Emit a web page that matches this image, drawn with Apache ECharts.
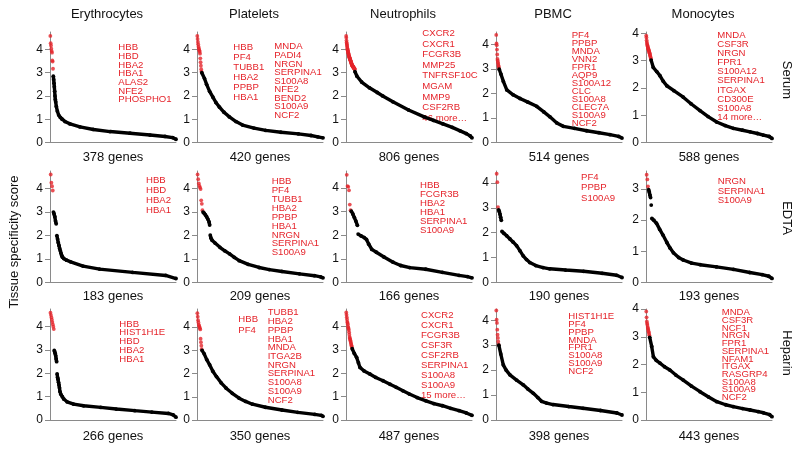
<!DOCTYPE html>
<html><head><meta charset="utf-8">
<script src="https://cdn.jsdelivr.net/npm/echarts@6/dist/echarts.min.js"></script>
<style>html,body{margin:0;padding:0;background:#fff}#c{width:798px;height:451px}</style>
</head><body><div id="c"></div>
<script>
// ---------- DATA ----------
const cellTypes = ['Erythrocytes', 'Platelets', 'Neutrophils', 'PBMC', 'Monocytes'];
const conditions = ['Serum', 'EDTA', 'Heparin'];
const geneCounts = [[378, 420, 806, 514, 588], [183, 209, 166, 190, 193], [266, 350, 487, 398, 443]];
const yAxisMax = [[4.75, 4.75, 4.75, 4.52, 4.05], [4.75, 4.75, 4.72, 4.48, 3.57], [4.76, 4.78, 4.75, 4.45, 4.0]];
const yTickLabels = [0, 1, 2, 3, 4];
const yTickLabelsShort = [0, 1, 2, 3];
const yAxisTitle = 'Tissue specificity score';

// red = top-scoring genes (scores at ranks 1..k); black = [rank, score] along the sorted curve (null = gap)
const ery_serum_red = [4.58, 4.27, 4.17, 4.03, 3.93, 3.86, 3.53, 3.48, 3.17];
const ery_serum_black = [[10,2.85],[11,2.7],[12,2.55],[13,2.4],[14,2.2],[15,2.0],[16,1.85],[17,1.75],[19,1.55],[22,1.35],[26,1.18],[31,1.08],[36,1.0],[45,0.9],[60,0.8],[90,0.67],[130,0.56],[180,0.47],[240,0.4],[300,0.32],[345,0.26],[368,0.21],[378,0.14]];
const ery_serum_genes = ['HBB', 'HBD', 'HBA2', 'HBA1', 'ALAS2', 'NFE2', 'PHOSPHO1'];

const plt_serum_red = [4.58, 4.45, 4.32, 4.22, 4.12, 4.06, 4.0, 3.95, 3.9, 3.82, 3.62, 3.45, 3.3, 3.15, 3.05];
const plt_serum_black = [[16,3.0],[25,2.75],[32,2.5],[42,2.2],[53,1.95],[63,1.72],[75,1.52],[90,1.3],[108,1.1],[130,0.9],[152,0.75],[190,0.62],[229,0.52],[280,0.44],[338,0.37],[380,0.3],[403,0.24],[420,0.2]];
const plt_serum_genes_a = ['HBB', 'PF4', 'TUBB1', 'HBA2', 'PPBP', 'HBA1'];
const plt_serum_genes_b = ['MNDA', 'PADI4', 'NRGN', 'SERPINA1', 'S100A8', 'NFE2', 'BEND2', 'S100A9', 'NCF2'];

const neu_serum_red = [4.58, 4.5, 4.38, 4.3, 4.25, 4.2, 4.15, 4.1, 4.05, 4.0, 3.97, 3.94, 3.9, 3.87, 3.84, 3.81, 3.78, 3.75, 3.72, 3.7, 3.68, 3.66, 3.64, 3.62, 3.6, 3.58, 3.56, 3.54, 3.52, 3.5, 3.48, 3.46, 3.44, 3.42, 3.4, 3.38, 3.36, 3.34, 3.32, 3.31, 3.3, 3.29, 3.28, 3.27, 3.26, 3.25, 3.24, 3.23, 3.22, 3.21, 3.2, 3.19, 3.18, 3.17, 3.16, 3.15];
const neu_serum_black = [[57,3.05],[70,2.85],[100,2.6],[150,2.35],[200,2.15],[235,2.0],[300,1.75],[400,1.4],[500,1.1],[560,0.95],[620,0.8],[680,0.65],[730,0.5],[770,0.38],[795,0.28],[806,0.2]];
const neu_serum_genes = ['CXCR2', 'CXCR1', 'FCGR3B', 'MMP25', 'TNFRSF10C', 'MGAM', 'MMP9', 'CSF2RB', '46 more…'];

const pbmc_serum_red = [4.4, 4.05, 3.98, 3.8, 3.6, 3.42, 3.35, 3.28, 3.22, 3.15, 3.1, 3.05];
const pbmc_serum_black = [[13,3.0],[20,2.8],[30,2.5],[44,2.15],[70,1.95],[98,1.8],[130,1.65],[166,1.48],[195,1.25],[220,1.05],[248,0.8],[275,0.66],[320,0.58],[370,0.48],[420,0.4],[465,0.32],[500,0.25],[514,0.18]];
const pbmc_serum_genes = ['PF4', 'PPBP', 'MNDA', 'VNN2', 'FPR1', 'AQP9', 'S100A12', 'CLC', 'S100A8', 'CLEC7A', 'S100A9', 'NCF2'];

const mono_serum_red = [3.92, 3.85, 3.75, 3.68, 3.62, 3.58, 3.55, 3.52, 3.48, 3.45, 3.42, 3.4, 3.37, 3.35, 3.32, 3.3, 3.27, 3.24, 3.2, 3.17, 3.13, 3.1, 3.06];
const mono_serum_black = [[24,3.02],[34,2.75],[50,2.6],[65,2.45],[80,2.25],[97,2.08],[130,1.9],[174,1.66],[210,1.42],[252,1.17],[290,0.95],[330,0.75],[370,0.62],[408,0.52],[450,0.45],[486,0.39],[520,0.33],[548,0.27],[575,0.22],[588,0.15]];
const mono_serum_genes = ['MNDA', 'CSF3R', 'NRGN', 'FPR1', 'S100A12', 'SERPINA1', 'ITGAX', 'CD300E', 'S100A8', '14 more…'];

const ery_edta_red = [4.6, 4.25, 4.1, 3.92];
const ery_edta_black = [[5,3.0],[6,2.92],[7,2.8],[8,2.62],[9,2.5],null,[10,2.0],[11,1.85],[12,1.7],[13,1.58],[14,1.45],[15,1.35],[16,1.25],[17,1.15],[18,1.08],[20,1.02],[24,0.95],[30,0.88],[48,0.7],[72,0.57],[120,0.43],[168,0.3],[183,0.17]];
const ery_edta_genes = ['HBB', 'HBD', 'HBA2', 'HBA1'];

const plt_edta_red = [4.6, 4.4, 4.22, 4.12, 4.05, 3.98, 3.5, 3.35, 3.08];
const plt_edta_black = [[10,3.0],[12,2.95],[14,2.88],[16,2.8],[18,2.7],[20,2.58],[21,2.45],null,[22,2.02],[23,1.9],[25,1.8],[30,1.68],[38,1.5],[46,1.35],[54,1.22],[62,1.07],[70,0.93],[85,0.77],[103,0.64],[120,0.55],[141,0.47],[170,0.37],[195,0.29],[205,0.24],[209,0.2]];
const plt_edta_genes = ['HBB', 'PF4', 'TUBB1', 'HBA2', 'PPBP', 'HBA1', 'NRGN', 'SERPINA1', 'S100A9'];

const neu_edta_red = [4.56, 4.08, 4.05, 3.9, 3.3, 3.06];
const neu_edta_black = [[7,3.02],[9,2.9],[11,2.75],[13,2.6],[15,2.42],null,[16,2.05],[20,1.97],[24,1.9],[27,1.82],[30,1.62],[34,1.4],[40,1.28],[50,1.08],[62,0.86],[72,0.72],[84,0.63],[105,0.56],[127,0.43],[149,0.3],[160,0.25],[166,0.2]];
const neu_edta_genes = ['HBB', 'FCGR3B', 'HBA2', 'HBA1', 'SERPINA1', 'S100A9'];

const pbmc_edta_red = [4.37, 4.03, 3.03];
const pbmc_edta_black = [[4,2.92],[5,2.85],[6,2.75],[7,2.62],[8,2.5],null,[9,2.05],[12,1.97],[16,1.88],[21,1.75],[26,1.62],[31,1.48],[36,1.28],[41,1.07],[46,0.92],[51,0.8],[60,0.68],[71,0.6],[81,0.55],[105,0.5],[132,0.45],[160,0.37],[182,0.29],[190,0.2]];
const pbmc_edta_genes = ['PF4', 'PPBP', 'S100A9'];

const mono_edta_red = [3.45, 3.3, 3.08];
const mono_edta_black = [[4,2.97],[5,2.9],[6,2.8],[7,2.72],null,[8,2.48],null,[9,2.05],[12,2.0],[16,1.9],[21,1.7],[26,1.52],[32,1.28],[37,1.1],[42,0.95],[50,0.8],[57,0.72],[70,0.62],[83,0.57],[108,0.5],[134,0.42],[159,0.32],[178,0.25],[188,0.2],[193,0.13]];
const mono_edta_genes = ['NRGN', 'SERPINA1', 'S100A9'];

const ery_hep_red = [4.6, 4.5, 4.4, 4.3, 4.2, 4.1, 4.0, 3.9];
const ery_hep_black = [[9,2.98],[10,2.92],[11,2.85],[12,2.75],[13,2.62],[14,2.5],null,[15,1.98],[16,1.82],[17,1.75],[18,1.62],[19,1.5],[20,1.38],[21,1.22],[23,1.1],[26,1.0],[29,0.9],[36,0.78],[50,0.68],[71,0.61],[107,0.54],[140,0.47],[179,0.4],[215,0.34],[250,0.28],[260,0.22],[266,0.12]];
const ery_hep_genes = ['HBB', 'HIST1H1E', 'HBD', 'HBA2', 'HBA1'];

const plt_hep_red = [4.6, 4.45, 4.3, 4.2, 4.1, 4.05, 4.0, 3.95, 3.9, 3.5, 3.35, 3.2, 3.05];
const plt_hep_black = [[14,3.0],[20,2.85],[27,2.6],[35,2.38],[44,2.1],[54,1.87],[67,1.6],[81,1.37],[98,1.15],[117,0.94],[135,0.8],[154,0.68],[190,0.55],[236,0.43],[280,0.33],[327,0.24],[345,0.2],[350,0.16]];
const plt_hep_genes_a = ['HBB', 'PF4'];
const plt_hep_genes_b = ['TUBB1', 'HBA2', 'PPBP', 'HBA1', 'MNDA', 'ITGA2B', 'NRGN', 'SERPINA1', 'S100A8', 'S100A9', 'NCF2'];

const neu_hep_red = [4.6, 4.5, 4.4, 4.3, 4.2, 4.15, 4.1, 4.0, 3.95, 3.9, 3.85, 3.75, 3.65, 3.55, 3.5, 3.45, 3.4, 3.35, 3.3, 3.25, 3.2, 3.15, 3.1];
const neu_hep_black = [[24,3.05],[32,2.85],[41,2.68],[48,2.45],[54,2.25],[70,2.1],[92,1.97],[115,1.82],[143,1.68],[170,1.53],[194,1.4],[220,1.25],[245,1.11],[275,0.96],[309,0.82],[340,0.7],[373,0.61],[405,0.5],[437,0.4],[465,0.3],[487,0.2]];
const neu_hep_genes = ['CXCR2', 'CXCR1', 'FCGR3B', 'CSF3R', 'CSF2RB', 'SERPINA1', 'S100A8', 'S100A9', '15 more…'];

const pbmc_hep_red = [4.39, 4.02, 3.89, 3.62, 3.42, 3.29, 3.15, 3.03];
const pbmc_hep_black = [[9,3.0],[15,2.65],[23,2.21],[32,2.0],[44,1.81],[65,1.6],[86,1.41],[100,1.25],[118,1.07],[132,0.9],[144,0.75],[160,0.68],[180,0.62],[230,0.54],[275,0.47],[330,0.38],[382,0.28],[398,0.2]];
const pbmc_hep_genes = ['HIST1H1E', 'PF4', 'PPBP', 'MNDA', 'FPR1', 'S100A8', 'S100A9', 'NCF2'];

const mono_hep_red = [3.91, 3.7, 3.55, 3.48, 3.42, 3.35, 3.3, 3.25, 3.2, 3.15, 3.1, 3.05];
const mono_hep_black = [[13,2.98],[20,2.65],[26,2.28],[36,2.15],[49,2.05],[65,1.92],[84,1.8],[105,1.62],[131,1.44],[160,1.22],[190,1.02],[220,0.83],[249,0.66],[280,0.55],[307,0.48],[340,0.41],[366,0.36],[395,0.3],[413,0.26],[435,0.19],[443,0.12]];
const mono_hep_genes = ['MNDA', 'CSF3R', 'NCF1', 'NRGN', 'FPR1', 'SERPINA1', 'NFAM1', 'ITGAX', 'RASGRP4', 'S100A8', 'S100A9', 'NCF2'];

// ---------- LAYOUT ----------
const colLeft = [50, 197, 346, 496, 646];
const plotW = 126;
const rowTop = [32, 171, 309];
const rowBottom = [142.5, 282.5, 420];
const countY = [157, 296, 436.5];
const rowLabelY = [80, 218, 353];
const RED = '#e5242b';
const AXIS = '#8a8a8a';
const FONT = "'Liberation Sans', Arial, Helvetica, sans-serif";

// panel table: [row, col, red, black, [ [genes, x, y, dy], ... ]]
const panels = [
  [0,0, ery_serum_red, ery_serum_black, [[ery_serum_genes, 118.3, 47.7, 8.67]]],
  [0,1, plt_serum_red, plt_serum_black, [[plt_serum_genes_a, 233.3, 47.7, 9.9],[plt_serum_genes_b, 274.3, 46.7, 8.58]]],
  [0,2, neu_serum_red, neu_serum_black, [[neu_serum_genes, 422.3, 33.3, 10.6]]],
  [0,3, pbmc_serum_red, pbmc_serum_black, [[pbmc_serum_genes, 571.7, 35, 8.03]]],
  [0,4, mono_serum_red, mono_serum_black, [[mono_serum_genes, 717.3, 35, 9.15]]],
  [1,0, ery_edta_red, ery_edta_black, [[ery_edta_genes, 146, 180, 10.2]]],
  [1,1, plt_edta_red, plt_edta_black, [[plt_edta_genes, 271.7, 181.7, 8.875]]],
  [1,2, neu_edta_red, neu_edta_black, [[neu_edta_genes, 420, 185.7, 8.87]]],
  [1,3, pbmc_edta_red, pbmc_edta_black, [[pbmc_edta_genes, 581, 177.3, 10.5]]],
  [1,4, mono_edta_red, mono_edta_black, [[mono_edta_genes, 717.7, 181.7, 9.2]]],
  [2,0, ery_hep_red, ery_hep_black, [[ery_hep_genes, 119.3, 324, 8.75]]],
  [2,1, plt_hep_red, plt_hep_black, [[plt_hep_genes_a, 238.3, 319.3, 11.3],[plt_hep_genes_b, 267.7, 312.7, 8.73]]],
  [2,2, neu_hep_red, neu_hep_black, [[neu_hep_genes, 421, 315, 10.1]]],
  [2,3, pbmc_hep_red, pbmc_hep_black, [[pbmc_hep_genes, 568.3, 316, 7.95]]],
  [2,4, mono_hep_red, mono_hep_black, [[mono_hep_genes, 721.7, 312.7, 7.7]]]
];

const grids = [], xAxes = [], yAxes = [], series = [], graphics = [];

panels.forEach(function (p, i) {
  const row = p[0], col = p[1], red = p[2], black = p[3], labelCols = p[4];
  const n = geneCounts[row][col];
  const ymax = yAxisMax[row][col];
  const ticks = ymax >= 4 ? yTickLabels : yTickLabelsShort;
  grids.push({ left: colLeft[col], top: rowTop[row], width: plotW, height: rowBottom[row] - rowTop[row] });
  xAxes.push({
    gridIndex: i, type: 'value', min: 0, max: n,
    axisLine: { show: true, onZero: false, lineStyle: { color: AXIS, width: 1 } },
    axisTick: { show: false }, axisLabel: { show: false }, splitLine: { show: false }
  });
  yAxes.push({
    gridIndex: i, type: 'value', min: 0, max: ymax,
    axisLine: { show: true, onZero: false, lineStyle: { color: AXIS, width: 1 } },
    axisTick: { show: true, length: 5, customValues: ticks, lineStyle: { color: AXIS } },
    axisLabel: { customValues: ticks, fontSize: 12, margin: 7, color: '#111', fontFamily: FONT },
    splitLine: { show: false }
  });
  let prev = 0;
  const blackData = black.map(function (d) {
    if (d === null) return [prev + 0.5, '-'];
    prev = d[0];
    return d;
  });
  series.push({
    type: 'line', xAxisIndex: i, yAxisIndex: i, data: blackData,
    symbol: 'circle', symbolSize: 3.8, showSymbol: true, showAllSymbol: true,
    connectNulls: false, clip: false, silent: true, animation: false,
    lineStyle: { color: '#000', width: 3.4 }, itemStyle: { color: '#000' }
  });
  series.push({
    type: 'scatter', xAxisIndex: i, yAxisIndex: i,
    data: red.map(function (v, k) { return [k + 1, v]; }),
    symbol: 'circle', symbolSize: 3.8, clip: false, silent: true, animation: false,
    itemStyle: { color: RED }
  });
  // gene labels
  labelCols.forEach(function (lc) {
    const genes = lc[0], x = lc[1], y0 = lc[2], dy = lc[3];
    genes.forEach(function (g, k) {
      graphics.push({
        type: 'text', silent: true,
        style: { text: g, x: x, y: y0 + k * dy, fill: RED, font: '9.6px ' + FONT, textVerticalAlign: 'middle', textAlign: 'left' }
      });
    });
  });
  // gene count
  graphics.push({
    type: 'text', silent: true,
    style: { text: n + ' genes', x: colLeft[col] + plotW / 2, y: countY[row], fill: '#111', font: '13px ' + FONT, textAlign: 'center', textVerticalAlign: 'middle' }
  });
});

cellTypes.forEach(function (t, c) {
  graphics.push({
    type: 'text', silent: true,
    style: { text: t, x: colLeft[c] + plotW / 2 - 6, y: 14.5, fill: '#111', font: '13px ' + FONT, textAlign: 'center', textVerticalAlign: 'middle' }
  });
});
conditions.forEach(function (t, r) {
  graphics.push({
    type: 'text', silent: true, x: 787, y: rowLabelY[r], rotation: -Math.PI / 2,
    style: { text: t, x: 0, y: 0, fill: '#111', font: '13px ' + FONT, textAlign: 'center', textVerticalAlign: 'middle' }
  });
});
graphics.push({
  type: 'text', silent: true, x: 14, y: 242, rotation: Math.PI / 2,
  style: { text: yAxisTitle, x: 0, y: 0, fill: '#111', font: '13px ' + FONT, textAlign: 'center', textVerticalAlign: 'middle' }
});

const chart = echarts.init(document.getElementById('c'), null, { renderer: 'canvas' });
chart.setOption({
  animation: false,
  backgroundColor: '#fff',
  grid: grids, xAxis: xAxes, yAxis: yAxes, series: series,
  graphic: { elements: graphics }
});
</script>
</body></html>
